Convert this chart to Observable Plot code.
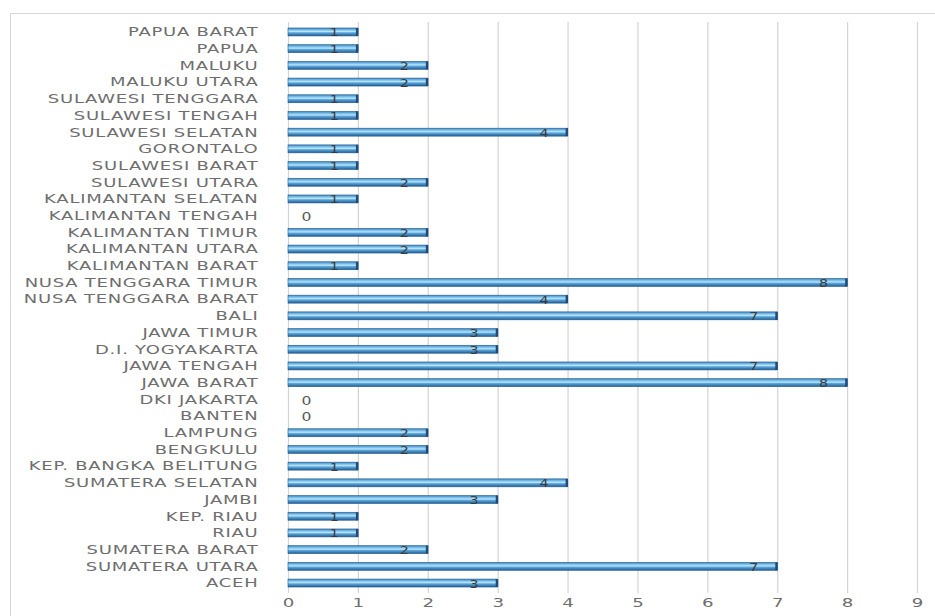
<!DOCTYPE html>
<html>
<head>
<meta charset="utf-8">
<script src="https://cdn.jsdelivr.net/npm/d3@7"></script>
<script src="https://cdn.jsdelivr.net/npm/@observablehq/plot@0.6"></script>
<style>
  html, body { margin: 0; padding: 0; background: #fff; }
  #wrap { position: relative; width: 935px; height: 616px; overflow: hidden; }
  #border { position: absolute; left: 10px; top: 13px; right: -2px; bottom: -2px;
            border-top: 1px solid #d6d6d6; border-left: 1px solid #d6d6d6; pointer-events: none; }
  #chart { position: absolute; left: 0; top: 0; }
</style>
</head>
<body>
<div id="wrap"><div id="border"></div><div id="chart"></div></div>
<script>
const provinces = [
  "PAPUA BARAT", "PAPUA", "MALUKU", "MALUKU UTARA", "SULAWESI TENGGARA",
  "SULAWESI TENGAH", "SULAWESI SELATAN", "GORONTALO", "SULAWESI BARAT",
  "SULAWESI UTARA", "KALIMANTAN SELATAN", "KALIMANTAN TENGAH", "KALIMANTAN TIMUR",
  "KALIMANTAN UTARA", "KALIMANTAN BARAT", "NUSA TENGGARA TIMUR", "NUSA TENGGARA BARAT",
  "BALI", "JAWA TIMUR", "D.I. YOGYAKARTA", "JAWA TENGAH", "JAWA BARAT", "DKI JAKARTA",
  "BANTEN", "LAMPUNG", "BENGKULU", "KEP. BANGKA BELITUNG", "SUMATERA SELATAN", "JAMBI",
  "KEP. RIAU", "RIAU", "SUMATERA BARAT", "SUMATERA UTARA", "ACEH"
];
const counts = [
  1, 1, 2, 2, 1,
  1, 4, 1, 1,
  2, 1, 0, 2,
  2, 1, 8, 4,
  7, 3, 3, 7, 8, 0,
  0, 2, 2, 1, 4, 3,
  1, 1, 2, 7, 3
];
const xTicks = [0, 1, 2, 3, 4, 5, 6, 7, 8, 9];

const data = provinces.map((p, i) => ({province: p, value: counts[i]}));

const chart = Plot.plot({
  width: 935,
  height: 616,
  marginLeft: 288,
  marginRight: 18,
  marginTop: 22,
  marginBottom: 23,
  style: {fontFamily: "DejaVu Sans", background: "transparent", overflow: "visible"},
  x: {domain: [0, 9], ticks: xTicks, label: null, tickSize: 0, tickPadding: 4},
  y: {domain: provinces, round: false, paddingInner: 0.523, paddingOuter: 0.358, label: null, tickSize: 0, tickPadding: 30},
  marks: [
    Plot.gridX(xTicks, {stroke: "#d4d4d4", strokeOpacity: 1, strokeWidth: 1.2}),
    Plot.barX(data.filter(d => d.value > 0), {
      x: "value", y: "province", fill: "url(#barGrad)", stroke: "#2a5e90", strokeWidth: 0.6
    }),
    Plot.tickX(data.filter(d => d.value > 0), {
      x: "value", y: "province", stroke: "#1d4c7c", strokeWidth: 2.5, dx: -1.2
    }),
    Plot.text(data.filter(d => d.value > 0), {
      x: "value", y: "province", text: d => String(d.value), dx: -24, dy: 0.5,
      fill: "#3a3a3a", fontSize: 11, textAnchor: "middle"
    }),
    Plot.text(data.filter(d => d.value === 0), {
      x: "value", y: "province", text: d => String(d.value), dx: 18, dy: 1,
      fill: "#555", fontSize: 12, textAnchor: "middle"
    })
  ]
});

const svg = d3.select(chart);
const defs = svg.insert("defs", ":first-child");
const grad = defs.append("linearGradient").attr("id", "barGrad")
  .attr("x1", 0).attr("y1", 0).attr("x2", 0).attr("y2", 1);
[["0%", "#3d82bc"], ["22%", "#72b9e6"], ["45%", "#b8e5fb"], ["60%", "#5ea7da"], ["100%", "#1f5b92"]]
  .forEach(([o, c]) => grad.append("stop").attr("offset", o).attr("stop-color", c));

// label styling: wide light gray capitals
svg.selectAll('g[aria-label="y-axis tick label"] text').each(function() {
  const t = d3.select(this);
  t.attr("transform", (t.attr("transform") || "") + " scale(1.5,1)");
}).style("letter-spacing", "0.5px");
svg.select('g[aria-label="y-axis tick label"]').attr("fill", "#6e6e6e").attr("font-size", 12);
svg.selectAll('g[aria-label="x-axis tick label"] text').each(function() {
  const t = d3.select(this);
  t.attr("transform", (t.attr("transform") || "") + " scale(1.4,1)");
});
svg.select('g[aria-label="x-axis tick label"]').attr("fill", "#6e6e6e").attr("font-size", 13);
svg.selectAll('g[aria-label="text"] text').each(function() {
  const t = d3.select(this);
  t.attr("transform", (t.attr("transform") || "") + " scale(1.3,1)");
});

document.getElementById("chart").appendChild(chart);
</script>
</body>
</html>
